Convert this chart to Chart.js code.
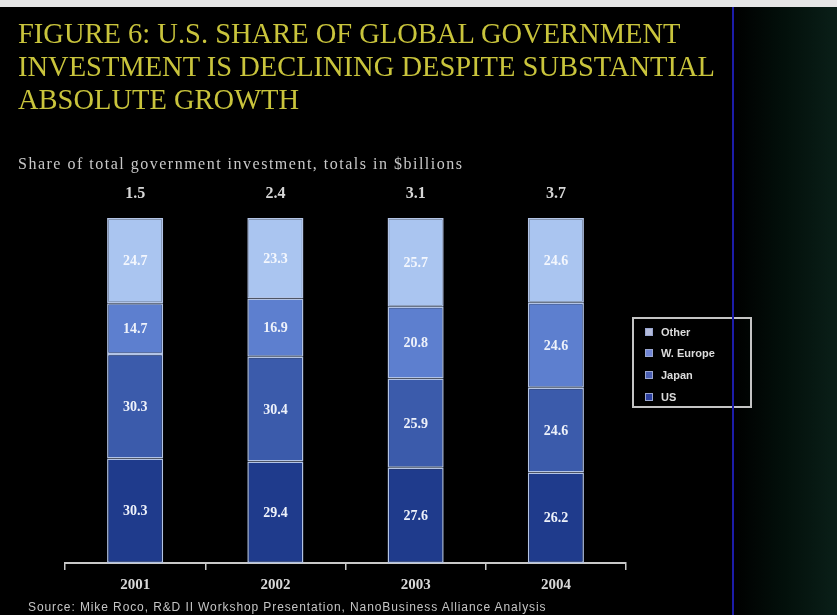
<!DOCTYPE html>
<html><head><meta charset="utf-8">
<script src="https://cdn.jsdelivr.net/npm/chart.js@4/dist/chart.umd.min.js"></script>
<style>
html,body{margin:0;padding:0;background:#000;}
#wrap{position:relative;width:837px;height:615px;background:#000;overflow:hidden;}
#c{position:absolute;left:0;top:0;}
#topstrip{position:absolute;left:0;top:0;width:837px;height:7px;background:#e6e6e6;}
#rightpane{position:absolute;left:734px;top:7px;width:103px;height:608px;background:linear-gradient(90deg,#000 0%,#03100b 50%,#0a1f18 100%);}
#vline{position:absolute;left:732px;top:7px;width:2px;height:608px;background:#1c1ca8;z-index:5;}
#title{position:absolute;left:18px;top:17px;font-family:"Liberation Serif","DejaVu Serif",serif;font-size:28.5px;line-height:33px;color:#c9c43c;white-space:nowrap;}
#subtitle{position:absolute;left:18px;top:156px;font-family:"Liberation Serif",serif;font-size:16px;line-height:16px;letter-spacing:1.5px;color:#c8c8c8;white-space:nowrap;}
#source{position:absolute;left:28px;top:600px;font-family:"Liberation Sans",Arial,sans-serif;font-size:12px;letter-spacing:0.9px;color:#c4c4c4;white-space:nowrap;}
#legend{position:absolute;left:632px;top:317px;width:116px;height:87px;border:2px solid #c4c4c4;}
.li{position:absolute;left:11px;font-family:"Liberation Sans",Arial,sans-serif;font-weight:bold;font-size:11px;color:#dcdcdc;line-height:12px;white-space:nowrap;}
.li span{display:inline-block;width:8px;height:8px;margin-right:8px;vertical-align:0px;border:1px solid #9aa6d0;box-sizing:border-box;}
</style></head>
<body><div id="wrap">
<canvas id="c" width="837" height="615"></canvas>
<div id="topstrip"></div>
<div id="rightpane"></div>
<div id="vline"></div>
<div id="title">FIGURE 6: U.S. SHARE OF GLOBAL GOVERNMENT<br>INVESTMENT IS DECLINING DESPITE SUBSTANTIAL<br>ABSOLUTE GROWTH</div>
<div id="subtitle">Share of total government investment, totals in $billions</div>
<div id="legend"></div>
<div id="source">Source: Mike Roco, R&amp;D II Workshop Presentation, NanoBusiness Alliance Analysis</div>
</div>
<script>
const years = ['2001', '2002', '2003', '2004'];
const totals = [1.5, 2.4, 3.1, 3.7];
const us = [30.3, 29.4, 27.6, 26.2];
const japan = [30.3, 30.4, 25.9, 24.6];
const wEurope = [14.7, 16.9, 20.8, 24.6];
const other = [24.7, 23.3, 25.7, 24.6];
const seriesNames = ['US', 'Japan', 'W. Europe', 'Other'];
const seriesColors = ['#1f3b8c', '#3b5bab', '#5d7fcf', '#aac5f0'];
const legendColors = ['#2c3f9e', '#4a5fb2', '#7186d6', '#b4bcdc'];

const seriesData = [us, japan, wEurope, other];

// legend (top to bottom: Other, W. Europe, Japan, US)
const leg = document.getElementById('legend');
const rowTops = [7, 28, 50, 72];
[3, 2, 1, 0].forEach((si, k) => {
  const d = document.createElement('div');
  d.className = 'li';
  d.style.top = rowTops[k] + 'px';
  d.innerHTML = '<span style="background:' + legendColors[si] + '"></span>' + seriesNames[si];
  leg.appendChild(d);
});

const labelPlugin = {
  id: 'labels',
  afterDatasetsDraw(chart) {
    const ctx = chart.ctx;
    ctx.save();
    ctx.textAlign = 'center';
    ctx.textBaseline = 'middle';
    ctx.font = 'bold 14px "Liberation Serif", serif';
    chart.data.datasets.forEach((ds, i) => {
      const meta = chart.getDatasetMeta(i);
      ctx.fillStyle = i === 3 ? '#f4f7fd' : '#eef2fa';
      meta.data.forEach((el, j) => {
        ctx.fillText(ds.data[j].toFixed(1), el.x, (el.y + el.base) / 2 + 1);
      });
    });
    // totals above bars
    const meta0 = chart.getDatasetMeta(0);
    ctx.font = 'bold 16px "Liberation Serif", serif';
    ctx.fillStyle = '#d6d6d6';
    meta0.data.forEach((el, j) => {
      ctx.fillText(totals[j].toFixed(1), el.x, chart.chartArea.top - 24);
    });
    ctx.restore();
  }
};

new Chart(document.getElementById('c'), {
  type: 'bar',
  data: {
    labels: years,
    datasets: seriesData.map((arr, i) => ({
      label: seriesNames[i],
      data: arr,
      backgroundColor: seriesColors[i],
      borderColor: '#b3c4e6',
      borderWidth: 1.5,
      borderSkipped: false,
      barPercentage: 0.8,
      categoryPercentage: 0.5
    }))
  },
  options: {
    responsive: false,
    animation: false,
    devicePixelRatio: 1,
    layout: { padding: { left: 65, right: 211, top: 218, bottom: 0 } },
    plugins: { legend: { display: false }, tooltip: { enabled: false }, title: { display: false } },
    scales: {
      x: {
        stacked: true,
        afterFit: s => { s.height = 52; },
        grid: { display: true, drawOnChartArea: false, drawTicks: true, tickLength: 7, color: '#c8c8c8', lineWidth: 1.5, offset: true },
        border: { display: true, color: '#c8c8c8', width: 2 },
        ticks: { color: '#d8d8d8', padding: 6, font: { family: '"Liberation Serif", serif', size: 15, weight: 'bold' } }
      },
      y: { stacked: true, display: false, min: 0, max: 100 }
    }
  },
  plugins: [labelPlugin]
});
</script>
</body></html>
